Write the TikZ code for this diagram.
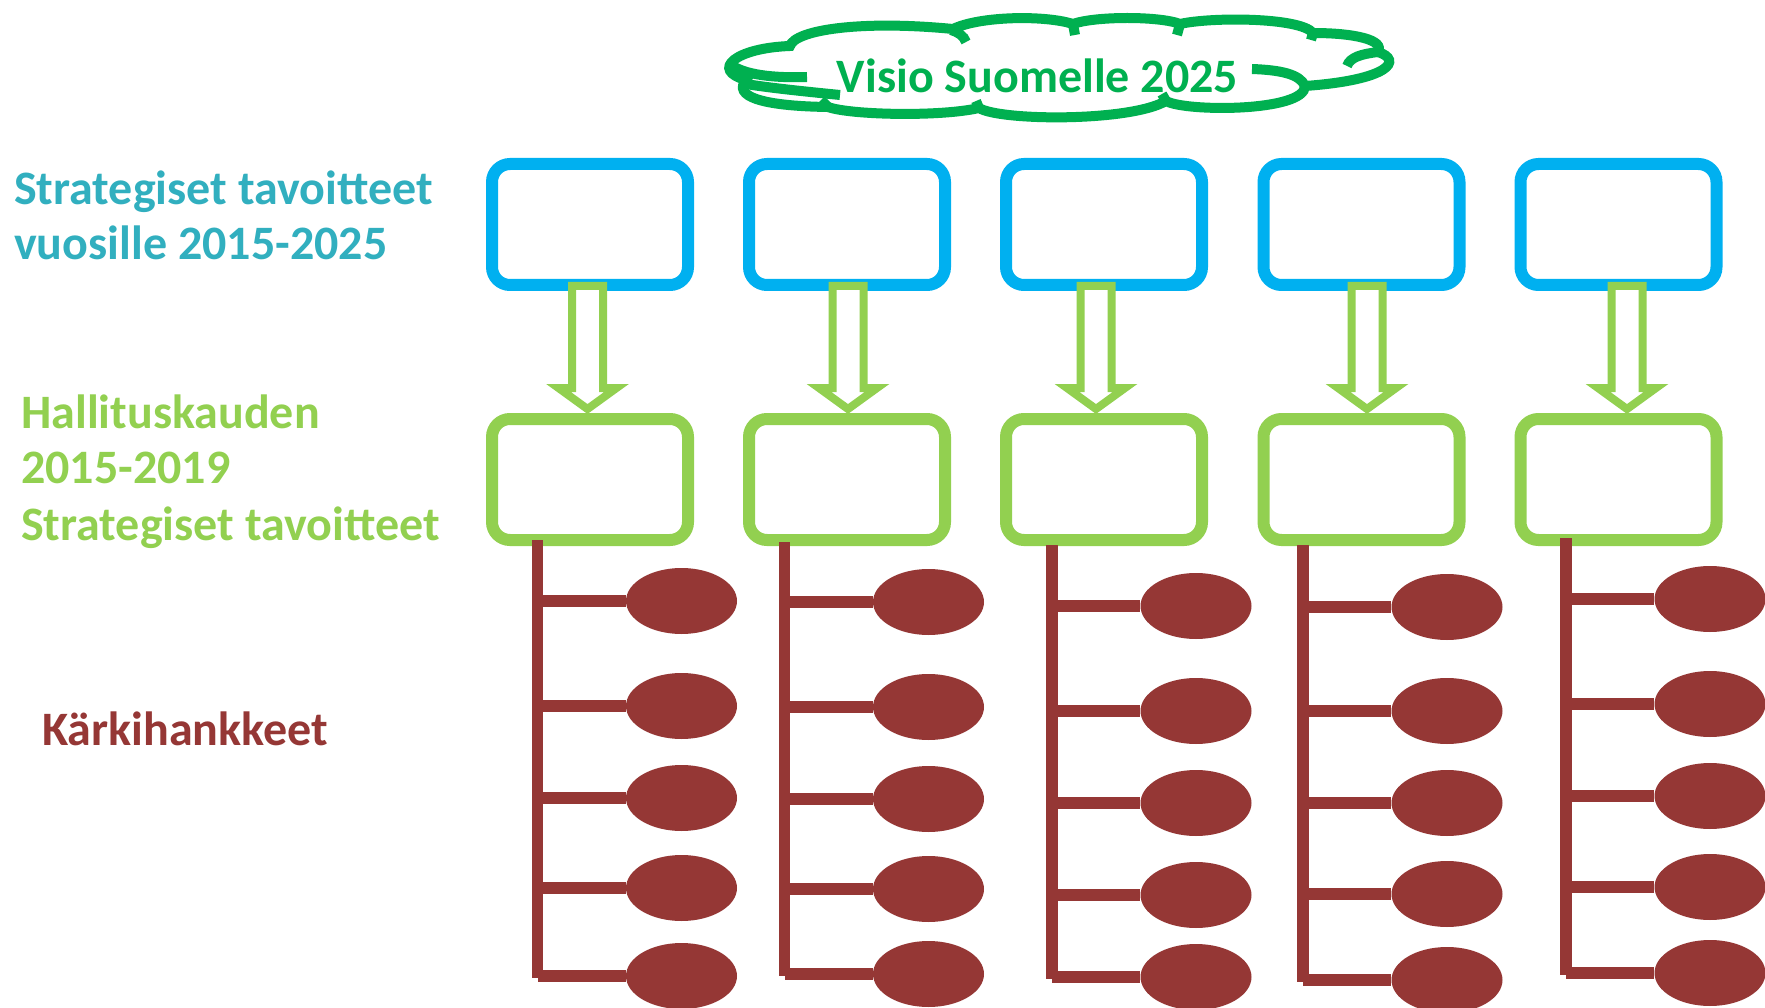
\documentclass[tikz,border=0pt]{standalone}
\usepackage{fontspec}
\setmainfont{Carlito}
\usetikzlibrary{shapes.geometric}
\definecolor{cloudgreen}{HTML}{00B050}
\definecolor{boxblue}{HTML}{00B0F0}
\definecolor{lightgreen}{HTML}{92D050}
\definecolor{karki}{HTML}{953735}
\definecolor{tealtext}{HTML}{31AFBF}
\begin{document}
\begin{tikzpicture}[x=1pt,y=-1pt,
  bluebox/.style={draw=boxblue, line width=12pt, rounded corners=18pt, minimum width=196pt, minimum height=121pt, inner sep=0pt},
  greenbox/.style={draw=lightgreen, line width=12pt, rounded corners=18pt, minimum width=196pt, minimum height=121pt, inner sep=0pt},
  bigarrow/.style={draw=lightgreen, line width=8pt, fill=white, line join=miter},
  stemline/.style={draw=karki, line width=11.5pt},
  twig/.style={draw=karki, line width=12pt},
  leaf/.style={ellipse, fill=karki, minimum width=111pt, minimum height=66pt, inner sep=0pt},
  lefttext/.style={anchor=base west, inner sep=0pt, font=\fontsize{48}{56}\selectfont\bfseries},
  cloudline/.style={draw=cloudgreen, line width=10pt}]
\fill[white] (0,0) rectangle (1765,1008);
\useasboundingbox (0,0) rectangle (1765,1008);

% cloud outline
\draw[cloudline] (790,46) .. controls (795,30) and (860,20) .. (953,29)
  .. controls (980,16) and (1045,15) .. (1073,24)
  .. controls (1095,16) and (1160,16) .. (1180,24)
  .. controls (1210,17) and (1300,17) .. (1313,33)
  .. controls (1355,33) and (1385,40) .. (1378,52)
  .. controls (1403,60) and (1390,80) .. (1305,86)
  .. controls (1305,112) and (1185,112) .. (1166,101)
  .. controls (1130,122) and (1000,121) .. (979,108)
  .. controls (940,117) and (850,115) .. (828,107)
  .. controls (760,106) and (733,96) .. (746,80)
  .. controls (710,70) and (735,48) .. (790,46) -- cycle;
% inner arcs of the cloud
\draw[cloudline] (733,66) .. controls (748,76) and (780,78) .. (807,77);
\draw[cloudline] (746,84) .. controls (770,88) and (810,92) .. (840,95);
\draw[cloudline] (1378,52) .. controls (1362,54) and (1350,57) .. (1347,66);
\draw[cloudline] (1305,86) .. controls (1300,74) and (1280,70) .. (1252,69);
\draw[cloudline] (951,30) .. controls (958,32) and (964,36) .. (966,42);
\draw[cloudline] (1073,24) -- (1075,35);
\draw[cloudline] (1180,24) -- (1177,35);
\draw[cloudline] (1313,33) -- (1311,40);
\draw[cloudline] (1166,101) -- (1162,94);
\draw[cloudline] (979,108) -- (976,101);
\draw[cloudline] (828,107) -- (821,100);
\node[anchor=base, inner sep=0pt, text=cloudgreen, font=\fontsize{48}{56}\selectfont\bfseries] (vision) at (1037.5,92.5) {Visio Suomelle 2025};

% left labels
\node[lefttext, text=tealtext] (sa) at (14,205) {Strategiset tavoitteet};
\node[lefttext, text=tealtext] (sb) at (14,260) {vuosille 2015-2025};
\node[lefttext, text=lightgreen] (ha) at (21,428) {Hallituskauden};
\node[lefttext, text=lightgreen] (hb) at (21,483) {2015-2019};
\node[lefttext, text=lightgreen] (hc) at (21,540) {Strategiset tavoitteet};
\node[lefttext, text=karki] (kk) at (42,745) {Kärkihankkeet};

% boxes
\foreach \i/\bx in {1/590,2/847,3/1104,4/1361.5,5/1618.5}{
  \node[bluebox] (b\i) at (\bx,224.5) {};
  \node[greenbox] (g\i) at (\bx,479.5) {};
}
% arrows
\foreach \i/\ax in {1/587.5,2/848,3/1096,4/1367,5/1627}{
  \coordinate (a\i) at (\ax,286);
  \draw[bigarrow] (a\i) ++(-15.5,0) -- ++(31,0) -- ++(0,102) -- ++(13.5,0)
     -- ++(-29,21) -- ++(-29,-21) -- ++(13.5,0) -- cycle;
}
% trees
\foreach \i/\vx/\top/\ya/\yb/\yc/\yd/\ye in {
   1/537.5/540/601/706/798/888/976,
   2/784.5/542/602/707/799/889/974,
   3/1052/545/606/711/803/895/977,
   4/1303/545/607/711/803/894/980,
   5/1566/538/599/704/796/887/973}{
  \coordinate (s\i) at (\vx,\top);
  \coordinate (z\i) at (\vx,\ye+2);
  \draw[stemline] (s\i) -- (z\i);
  \foreach \y [count=\j] in {\ya,\yb,\yc,\yd,\ye}{
    \node[leaf] (e\i\j) at (\vx+144,\y) {};
    \draw[twig] (s\i |- e\i\j) -- (e\i\j.west);
  }
}
\end{tikzpicture}
\end{document}
